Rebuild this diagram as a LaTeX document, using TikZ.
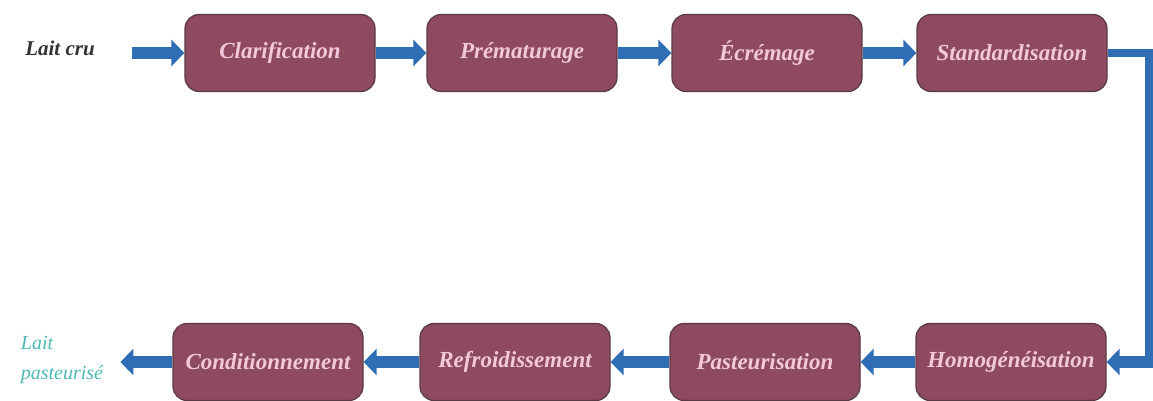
\documentclass[tikz,border=0pt]{standalone}
\usepackage{fontspec}
\setmainfont{Liberation Serif}
\usetikzlibrary{arrows.meta}
\definecolor{boxfill}{HTML}{8E4A5E}
\definecolor{boxedge}{HTML}{5A3A42}
\definecolor{boxtext}{HTML}{F2C8DA}
\definecolor{arrowblue}{HTML}{2F6DB5}
\definecolor{outtext}{HTML}{4DB8B4}
\begin{document}
\begin{tikzpicture}[x=1pt,y=-1pt,
  stage/.style={draw=boxedge,line width=1.2pt,fill=boxfill,rounded corners=14pt,
    minimum width=190pt,minimum height=77pt,inner sep=0pt,
    font=\fontsize{23}{26}\selectfont\bfseries\itshape,text=boxtext},
  flow/.style={arrowblue,line width=12pt,-{Triangle[length=13pt,width=26pt]}},
  link/.style={arrowblue,line width=8pt}]
\useasboundingbox (0,0) rectangle (1153,401);
\node[stage] (s1) at (280,53) {Clarification};
\node[stage] (s2) at (522,53) {Prématurage};
\node[stage] (s3) at (767,53) {Écrémage};
\node[stage] (s4) at (1012,53) {Standardisation};
\node[stage] (s5) at (1011,362) {Homogénéisation};
\node[stage] (s6) at (765,362) {Pasteurisation};
\node[stage] (s7) at (515,362) {Refroidissement};
\node[stage] (s8) at (268,362) {Conditionnement};
\node[font=\fontsize{21}{24}\selectfont\bfseries\itshape,text=black!80] (in) at (60,48) {Lait cru};
\node[font=\fontsize{20}{30}\selectfont\itshape,text=outtext,align=left] (out) at (62,360) {Lait\\pasteurisé};
\coordinate (c1) at (1149,0);
\draw[flow] ([xshift=-52pt]s1.west) -- (s1.west);
\draw[flow] (s1.east) -- (s2.west);
\draw[flow] (s2.east) -- (s3.west);
\draw[flow] (s3.east) -- (s4.west);
\draw[link] (s4.east) -- (s4.east -| c1) -- ([yshift=4pt]s5.east -| c1);
\draw[flow] ([xshift=4pt]s5.east -| c1) -- (s5.east);
\draw[flow] (s5.west) -- (s6.east);
\draw[flow] (s6.west) -- (s7.east);
\draw[flow] (s7.west) -- (s8.east);
\draw[flow] (s8.west) -- ++(-52,0);
\end{tikzpicture}
\end{document}
